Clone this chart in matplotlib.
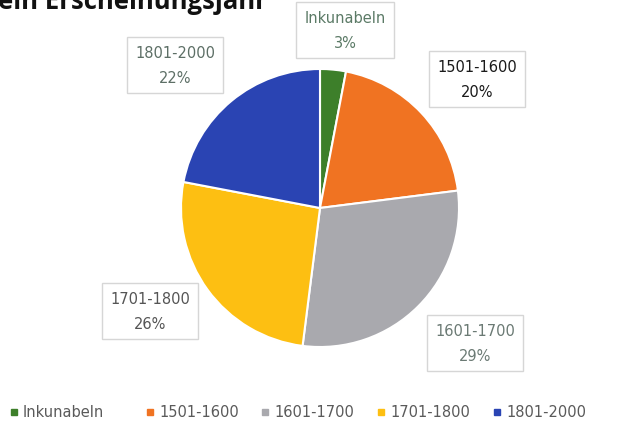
import matplotlib
matplotlib.use("Agg")
from matplotlib import pyplot as plt

# data
categories = ["Inkunabeln", "1501-1600", "1601-1700", "1701-1800", "1801-2000"]
shares = [3, 20, 29, 26, 22]
colors = ["#3d7f2a", "#f07322", "#a9a9ae", "#fdbf12", "#2a44b3"]
title = "ein Erscheinungsjahr"

# label box centres (pixels, top-left origin) and text colours
label_pos = [(345, 31), (477, 80), (475, 344), (150, 312), (175, 66)]
label_col = ["#5b7a66", "#1a1a1a", "#6b7a74", "#555555", "#5d6f66"]
# legend marker x positions
legend_x = [14, 150, 265, 381, 497]

W, H = 636, 427
fig = plt.figure(figsize=(W / 100, H / 100), dpi=100)
ax = fig.add_axes([0, 0, 1, 1])

ax.pie(shares, colors=colors, startangle=90, counterclock=False,
       center=(320, H - 209), radius=139,
       wedgeprops=dict(edgecolor="white", linewidth=1.5))

for cat, val, (x, y), c in zip(categories, shares, label_pos, label_col):
    ax.text(x, H - y, "%s\n%d%%" % (cat, val), ha="center", va="center",
            fontsize=10.5, color=c, linespacing=1.8, family="DejaVu Sans",
            bbox=dict(boxstyle="square,pad=0.55", fc="white", ec="#d6d6d6", lw=1))

ax.text(-2, H - 9, title, ha="left", va="baseline", fontsize=18.5,
        fontweight="bold", color="#111111", family="Open Sans")

# legend drawn by hand so it fits the width like the Excel one
for x, c, cat in zip(legend_x, colors, categories):
    ax.plot([x], [H - 413], marker="s", ms=5, color=c, ls="")
    ax.text(x + 9, H - 413, cat, ha="left", va="center", fontsize=10.5,
            color="#5a5a5a", family="DejaVu Sans")

ax.set_xlim(0, W)
ax.set_ylim(0, H)
ax.set_aspect("auto")
ax.axis("off")

fig.savefig("out.png", dpi=100)
